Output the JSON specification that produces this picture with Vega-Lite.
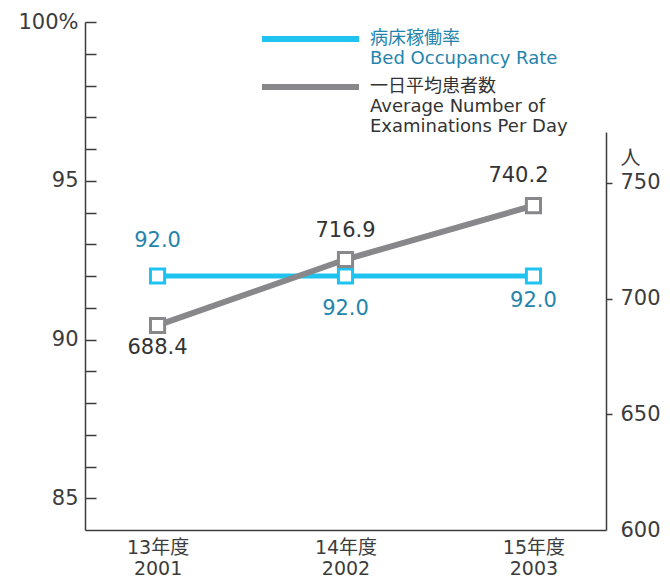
{
  "$schema": "https://vega.github.io/schema/vega-lite/v6.json",
  "width": 521,
  "height": 508,
  "autosize": {"type": "none"},
  "padding": {"left": 85, "top": 22, "right": 64, "bottom": 49},
  "config": {"view": {"stroke": null}, "font": "DejaVu Sans, Noto Sans CJK JP", "text": {"font": "DejaVu Sans, Noto Sans CJK JP"}},
  "data": {
    "values": [
      {"year": "2001", "series": "rate", "value": 92.0},
      {"year": "2002", "series": "rate", "value": 92.0},
      {"year": "2003", "series": "rate", "value": 92.0},
      {"year": "2001", "series": "avg", "value": 688.4},
      {"year": "2002", "series": "avg", "value": 716.9},
      {"year": "2003", "series": "avg", "value": 740.2}
    ]
  },
  "encoding": {
    "x": {
      "field": "year",
      "type": "ordinal",
      "scale": {"type": "point", "padding": 0.386},
      "axis": {
        "title": null,
        "labelAngle": 0,
        "ticks": false,
        "domainColor": "#3c3c3c",
        "domainWidth": 1.5,
        "labelFontSize": 19,
        "labelColor": "#3c3c3c",
        "labelPadding": 8,
        "labelLineHeight": 21,
        "labelBaseline": "top",
        "labelExpr": "[(toNumber(datum.value) - 1988) + '年度', datum.value]"
      }
    }
  },
  "layer": [
    {
      "encoding": {
        "y": {
          "field": "value",
          "type": "quantitative",
          "scale": {"domain": [84, 100], "zero": false, "nice": false},
          "axis": {
            "title": null,
            "grid": false,
            "values": [85, 86, 87, 88, 89, 90, 91, 92, 93, 94, 95, 96, 97, 98, 99, 100],
            "tickSize": -11,
            "labelPadding": 18,
            "labelOverlap": false,
            "labelFlush": false,
            "labelBound": false,
            "labelFontSize": 21,
            "labelColor": "#3c3c3c",
            "domainColor": "#3c3c3c",
            "domainWidth": 1.5,
            "tickColor": "#3c3c3c",
            "tickWidth": 1.5,
            "labelExpr": "datum.value % 5 == 0 ? (datum.value == 100 ? '100%' : datum.label) : ''"
          }
        }
      },
      "layer": [
        {
          "transform": [{"filter": "datum.series == 'rate'"}],
          "mark": {
            "type": "line",
            "strokeWidth": 5,
            "point": {"shape": "square", "filled": false, "fill": "white", "size": 200, "strokeWidth": 3, "opacity": 1}
          },
          "encoding": {
            "color": {
              "field": "series",
              "type": "nominal",
              "scale": {"domain": ["rate", "avg"], "range": ["#1ec3f0", "#88888b"]},
              "legend": {
                "orient": "none",
                "legendX": 174,
                "legendY": -2,
                "title": null,
                "symbolType": "stroke",
                "symbolStrokeWidth": 6,
                "symbolSize": 9409,
                "labelFontSize": 18,
                "labelLineHeight": 19,
                "labelOffset": 8,
                "labelLimit": 400,
                "rowPadding": 0,
                "clipHeight": 38,
                "labelColor": {"expr": "datum.value == 'rate' ? '#2584ad' : '#333333'"},
                "labelExpr": "datum.value == 'rate' ? ['病床稼働率', 'Bed Occupancy Rate'] : ['一日平均患者数', 'Average Number of', 'Examinations Per Day']"
              }
            }
          }
        },
        {
          "transform": [{"filter": "datum.series == 'rate' && datum.year == '2001'"}],
          "mark": {"type": "text", "fontSize": 21, "color": "#2584ad", "dy": -35, "baseline": "middle"},
          "encoding": {"text": {"field": "value", "type": "quantitative", "format": ".1f"}}
        },
        {
          "transform": [{"filter": "datum.series == 'rate' && datum.year == '2002'"}],
          "mark": {"type": "text", "fontSize": 21, "color": "#2584ad", "dy": 33, "baseline": "middle"},
          "encoding": {"text": {"field": "value", "type": "quantitative", "format": ".1f"}}
        },
        {
          "transform": [{"filter": "datum.series == 'rate' && datum.year == '2003'"}],
          "mark": {"type": "text", "fontSize": 21, "color": "#2584ad", "dy": 25, "baseline": "middle"},
          "encoding": {"text": {"field": "value", "type": "quantitative", "format": ".1f"}}
        }
      ]
    },
    {
      "encoding": {
        "y": {
          "field": "value",
          "type": "quantitative",
          "scale": {"domain": [600, 772], "range": [508, 110], "zero": false, "nice": false},
          "axis": {
            "orient": "right",
            "grid": false,
            "values": [600, 650, 700, 750],
            "tickSize": 6,
            "tickOpacity": {"condition": {"test": "datum.value == 600", "value": 0}, "value": 1},
            "labelPadding": 8,
            "labelOverlap": false,
            "labelFlush": false,
            "labelBound": false,
            "labelFontSize": 21,
            "labelColor": "#3c3c3c",
            "domainColor": "#3c3c3c",
            "domainWidth": 1.5,
            "tickColor": "#3c3c3c",
            "tickWidth": 1.5,
            "title": "人",
            "titleAngle": 0,
            "titleX": 24,
            "titleY": 136,
            "titleAlign": "center",
            "titleBaseline": "middle",
            "titleFontSize": 20,
            "titleFontWeight": "normal",
            "titleColor": "#3c3c3c"
          }
        }
      },
      "layer": [
        {
          "transform": [{"filter": "datum.series == 'avg'"}],
          "mark": {
            "type": "line",
            "strokeWidth": 6,
            "point": {"shape": "square", "filled": false, "fill": "white", "size": 200, "strokeWidth": 3, "opacity": 1}
          },
          "encoding": {
            "color": {"field": "series", "type": "nominal"}
          }
        },
        {
          "transform": [{"filter": "datum.series == 'avg' && datum.year == '2001'"}],
          "mark": {"type": "text", "fontSize": 21, "color": "#333333", "dy": 23, "baseline": "middle"},
          "encoding": {"text": {"field": "value", "type": "quantitative", "format": ".1f"}}
        },
        {
          "transform": [{"filter": "datum.series == 'avg' && datum.year == '2002'"}],
          "mark": {"type": "text", "fontSize": 21, "color": "#333333", "dy": -28, "baseline": "middle"},
          "encoding": {"text": {"field": "value", "type": "quantitative", "format": ".1f"}}
        },
        {
          "transform": [{"filter": "datum.series == 'avg' && datum.year == '2003'"}],
          "mark": {"type": "text", "fontSize": 21, "color": "#333333", "dy": -30, "dx": -15, "baseline": "middle"},
          "encoding": {"text": {"field": "value", "type": "quantitative", "format": ".1f"}}
        }
      ]
    }
  ],
  "resolve": {"scale": {"y": "independent"}}
}
